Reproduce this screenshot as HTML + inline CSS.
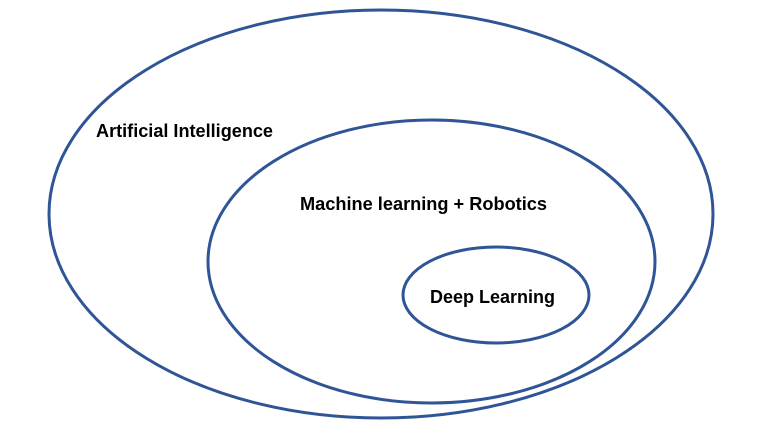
<!DOCTYPE html>
<html><head><meta charset="utf-8"><style>html,body{margin:0;padding:0;background:#fff;}svg{display:block}</style></head>
<body>
<svg width="768" height="433" viewBox="0 0 768 433" xmlns="http://www.w3.org/2000/svg">
<g fill="none" stroke="#2f5597" stroke-width="3">
<ellipse cx="381" cy="214" rx="332" ry="204"/>
<ellipse cx="431.5" cy="261.5" rx="223.5" ry="141.5"/>
<ellipse cx="496" cy="295" rx="93" ry="48"/>
</g>
<g font-family="Liberation Sans, sans-serif" font-weight="bold" font-size="18" fill="#000">
<text x="96" y="137" textLength="177" lengthAdjust="spacingAndGlyphs">Artificial Intelligence</text>
<text x="300" y="210" textLength="247" lengthAdjust="spacingAndGlyphs">Machine learning + Robotics</text>
<text x="430" y="303" textLength="125" lengthAdjust="spacingAndGlyphs">Deep Learning</text>
</g>
</svg>
</body></html>
